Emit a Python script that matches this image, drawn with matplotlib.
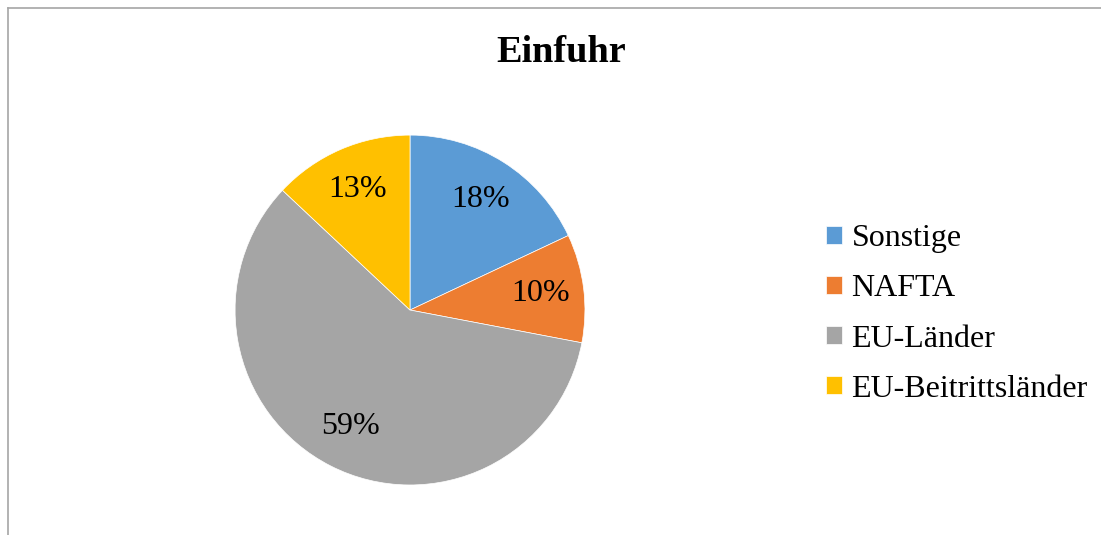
import matplotlib
matplotlib.use("Agg")
import matplotlib.pyplot as plt
from matplotlib.lines import Line2D

# Daten
labels = ["Sonstige", "NAFTA", "EU-Länder", "EU-Beitrittsländer"]
shares = [18, 10, 59, 13]
colors = ["#5b9bd5", "#ed7d31", "#a5a5a5", "#ffc000"]

plt.rcParams["font.family"] = ["Liberation Serif", "DejaVu Serif"]

fig = plt.figure(figsize=(11.01, 5.35), dpi=100)

# Rahmen (nur oben und links sichtbar)
fig.add_artist(Line2D([7.5 / 1101, 1], [1 - 8 / 535, 1 - 8 / 535],
                      transform=fig.transFigure, color="#a6a6a6", linewidth=1.2))
fig.add_artist(Line2D([7.5 / 1101, 7.5 / 1101], [0, 1 - 8 / 535],
                      transform=fig.transFigure, color="#a6a6a6", linewidth=1.2))

ax = fig.add_axes([0.2134, 0.0935, 0.318, 0.654])
wedges, texts, autotexts = ax.pie(
    shares, colors=colors, startangle=90, counterclock=False,
    autopct=lambda p: f"{round(p):.0f}%", pctdistance=0.75,
    wedgeprops={"edgecolor": "white", "linewidth": 0.5},
    textprops={"fontsize": 23, "color": "black"},
)
ax.set_xlim(-1, 1)
ax.set_ylim(-1, 1)
ax.set_aspect("equal")

fig.text(561 / 1101, 1 - 52 / 535, "Einfuhr", ha="center", va="center",
         fontsize=27.5, fontweight="bold")

leg = fig.legend(wedges, labels, loc="center left",
                 bbox_to_anchor=(826 / 1101, 1 - 314 / 535),
                 frameon=False, fontsize=23, handlelength=0.5, handleheight=0.5,
                 handletextpad=0.3, labelspacing=0.66, borderpad=0,
                 borderaxespad=0)

fig.savefig("out.png", dpi=100)
